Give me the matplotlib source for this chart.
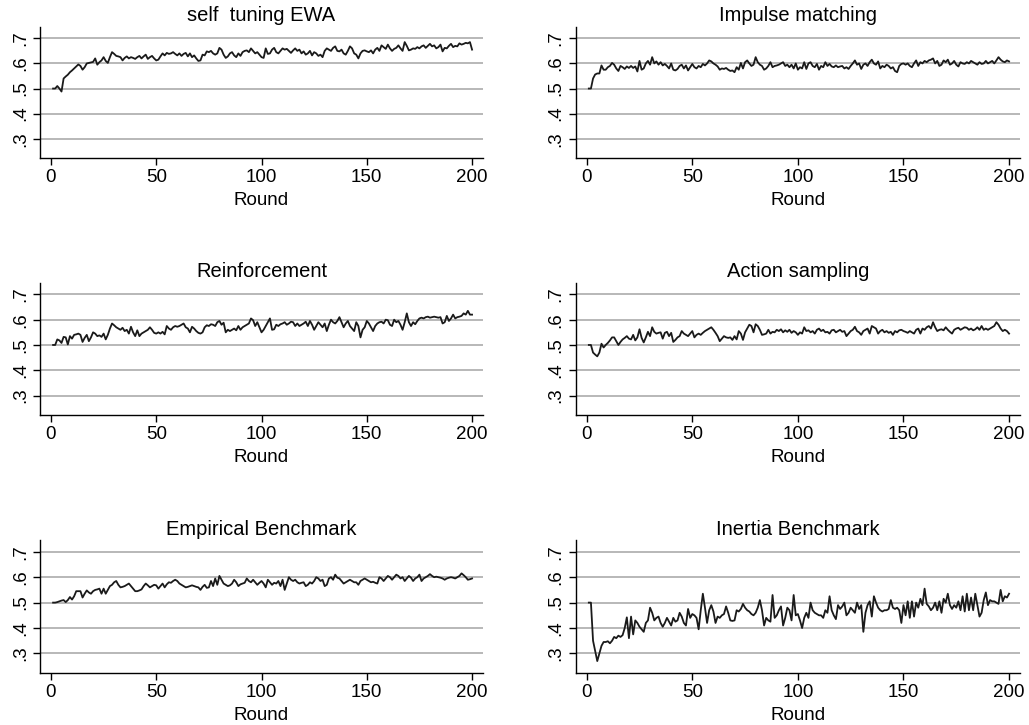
import matplotlib
matplotlib.use('Agg')
import matplotlib.pyplot as plt
import numpy as np

plt.rcParams['font.family'] = ['Liberation Sans', 'DejaVu Sans']

rounds = np.arange(1, 201)

titles = ['self  tuning EWA', 'Impulse matching', 'Reinforcement',
          'Action sampling', 'Empirical Benchmark', 'Inertia Benchmark']

ewa = [.500,.500,.510,.500,.488,.540,.548,.555,.565,.572,
       .580,.588,.596,.590,.575,.585,.600,.602,.604,.606,
       .620,.595,.605,.612,.625,.610,.602,.625,.645,.638,
       .630,.628,.625,.612,.622,.628,.620,.625,.622,.618,
       .625,.630,.620,.628,.635,.618,.625,.630,.620,.612,
       .615,.628,.640,.632,.642,.638,.640,.645,.638,.632,
       .640,.630,.638,.642,.628,.640,.625,.632,.620,.610,
       .612,.635,.632,.648,.645,.650,.640,.635,.640,.662,
       .655,.635,.622,.628,.640,.645,.632,.625,.640,.630,
       .645,.650,.652,.645,.660,.650,.640,.645,.635,.625,
       .622,.660,.638,.640,.655,.662,.645,.640,.650,.660,
       .655,.658,.650,.642,.652,.660,.650,.655,.640,.648,
       .635,.640,.650,.632,.645,.640,.630,.635,.625,.650,
       .660,.655,.650,.662,.668,.650,.648,.655,.640,.635,
       .650,.668,.660,.640,.635,.620,.640,.650,.652,.648,
       .645,.652,.640,.655,.662,.650,.672,.665,.658,.675,
       .660,.650,.658,.662,.672,.660,.650,.685,.670,.652,
       .655,.660,.658,.665,.660,.668,.672,.662,.670,.678,
       .668,.672,.660,.665,.675,.648,.662,.660,.670,.678,
       .665,.670,.668,.680,.675,.678,.682,.680,.685,.655]

impulse = [.500,.500,.540,.556,.560,.560,.592,.575,.575,.585,
           .590,.602,.595,.580,.570,.590,.585,.578,.588,.582,
           .590,.582,.588,.568,.610,.575,.580,.600,.610,.595,
           .625,.600,.608,.595,.605,.592,.598,.590,.580,.600,
           .575,.572,.578,.590,.595,.580,.592,.572,.585,.598,
           .585,.580,.590,.585,.598,.592,.600,.612,.608,.600,
           .595,.588,.575,.580,.578,.582,.575,.570,.572,.565,
           .585,.575,.602,.580,.605,.612,.600,.590,.595,.625,
           .605,.595,.590,.575,.580,.590,.605,.585,.590,.592,
           .595,.600,.605,.590,.595,.585,.595,.580,.600,.575,
           .585,.580,.605,.578,.600,.605,.590,.585,.598,.575,
           .590,.585,.605,.590,.598,.588,.585,.592,.585,.588,
           .590,.580,.585,.578,.590,.600,.612,.595,.600,.578,
           .595,.600,.590,.605,.615,.600,.595,.608,.580,.590,
           .585,.595,.590,.580,.585,.570,.565,.590,.598,.600,
           .595,.600,.590,.585,.600,.612,.590,.605,.600,.610,
           .605,.612,.615,.620,.600,.610,.590,.595,.612,.605,
           .615,.595,.600,.610,.595,.588,.605,.600,.598,.605,
           .600,.610,.605,.600,.595,.605,.598,.600,.610,.600,
           .605,.610,.600,.612,.625,.615,.608,.605,.612,.608]

reinforcement = [.500,.500,.522,.518,.508,.532,.530,.502,.535,.525,
                 .540,.542,.545,.540,.512,.528,.540,.515,.530,.550,
                 .545,.535,.538,.532,.545,.522,.540,.565,.585,.578,
                 .570,.565,.560,.568,.555,.560,.545,.572,.550,.535,
                 .558,.535,.545,.550,.555,.560,.570,.560,.548,.545,
                 .550,.545,.552,.542,.575,.565,.560,.570,.575,.572,
                 .575,.580,.585,.570,.565,.550,.572,.565,.555,.548,
                 .545,.550,.570,.578,.575,.582,.580,.575,.590,.595,
                 .580,.588,.550,.560,.555,.560,.565,.558,.575,.560,
                 .570,.575,.580,.585,.605,.598,.575,.590,.570,.550,
                 .560,.575,.590,.605,.560,.562,.580,.575,.582,.585,
                 .590,.580,.585,.592,.590,.575,.585,.575,.580,.585,
                 .592,.575,.595,.580,.560,.575,.590,.580,.570,.585,
                 .555,.580,.600,.590,.585,.595,.610,.590,.570,.585,
                 .595,.575,.565,.555,.590,.575,.530,.560,.570,.595,
                 .585,.570,.555,.575,.585,.590,.592,.585,.600,.598,
                 .580,.575,.600,.590,.595,.580,.560,.590,.625,.590,
                 .575,.590,.582,.595,.605,.608,.605,.610,.612,.608,
                 .610,.612,.610,.608,.610,.585,.590,.615,.595,.605,
                 .620,.605,.610,.612,.615,.625,.620,.635,.620,.620]

action = [.500,.500,.470,.462,.455,.470,.505,.490,.500,.508,
          .518,.530,.530,.515,.500,.512,.522,.528,.535,.525,
          .522,.540,.518,.530,.562,.528,.510,.530,.552,.535,
          .570,.552,.545,.548,.550,.525,.548,.552,.535,.548,
          .512,.520,.530,.535,.555,.545,.540,.535,.545,.555,
          .530,.540,.545,.540,.548,.555,.560,.565,.570,.560,
          .548,.535,.515,.525,.535,.530,.528,.530,.520,.535,
          .522,.555,.545,.520,.550,.565,.580,.575,.550,.582,
          .575,.560,.540,.542,.545,.560,.545,.552,.550,.560,
          .555,.562,.550,.558,.552,.560,.548,.555,.550,.540,
          .550,.545,.570,.555,.558,.550,.555,.545,.560,.565,
          .555,.560,.550,.552,.545,.558,.560,.550,.555,.560,
          .552,.555,.535,.545,.555,.560,.572,.555,.550,.540,
          .555,.560,.565,.545,.575,.570,.565,.545,.555,.560,
          .550,.555,.548,.552,.540,.555,.550,.558,.560,.555,
          .552,.548,.555,.550,.545,.560,.565,.545,.565,.560,
          .570,.575,.565,.590,.570,.555,.560,.562,.558,.570,
          .560,.552,.545,.560,.565,.568,.560,.565,.570,.568,
          .560,.565,.558,.562,.570,.560,.575,.560,.565,.560,
          .565,.570,.575,.590,.580,.565,.555,.560,.555,.545]

empirical = [.500,.500,.502,.505,.508,.510,.502,.510,.522,.512,
             .525,.545,.545,.545,.520,.535,.548,.540,.535,.545,
             .550,.552,.555,.535,.555,.535,.550,.565,.570,.580,
             .585,.570,.560,.562,.565,.570,.575,.565,.555,.545,
             .545,.548,.552,.565,.575,.568,.560,.565,.570,.568,
             .555,.565,.575,.560,.572,.580,.578,.585,.590,.585,
             .575,.570,.565,.560,.562,.565,.568,.565,.562,.560,
             .550,.562,.570,.558,.560,.585,.565,.595,.570,.605,
             .590,.575,.570,.565,.568,.575,.590,.580,.565,.572,
             .575,.578,.595,.585,.580,.590,.580,.570,.578,.585,
             .575,.560,.590,.580,.570,.578,.575,.585,.565,.590,
             .550,.575,.600,.590,.585,.590,.580,.575,.578,.580,
             .565,.570,.580,.575,.585,.600,.595,.585,.590,.565,
             .570,.595,.600,.590,.610,.598,.595,.585,.575,.580,
             .585,.590,.585,.580,.580,.570,.585,.590,.595,.590,
             .585,.580,.582,.578,.575,.600,.595,.585,.595,.605,
             .600,.590,.600,.610,.605,.595,.600,.585,.595,.605,
             .598,.585,.595,.600,.610,.585,.595,.600,.605,.612,
             .605,.600,.602,.600,.598,.595,.590,.595,.598,.600,
             .598,.595,.600,.605,.615,.608,.600,.590,.592,.595]

inertia = [.500,.500,.350,.310,.270,.300,.330,.345,.345,.348,
           .340,.350,.365,.360,.370,.365,.372,.400,.442,.360,
           .445,.375,.430,.420,.405,.395,.385,.420,.430,.480,
           .460,.430,.440,.445,.420,.405,.420,.440,.425,.410,
           .440,.425,.430,.460,.445,.420,.410,.475,.440,.455,
           .450,.440,.395,.470,.535,.480,.420,.470,.490,.465,
           .420,.445,.440,.450,.455,.485,.460,.430,.428,.430,
           .470,.465,.475,.495,.480,.470,.465,.455,.450,.460,
           .480,.510,.470,.410,.440,.430,.425,.530,.440,.450,
           .470,.485,.410,.440,.480,.470,.430,.530,.450,.455,
           .430,.400,.440,.460,.440,.500,.470,.460,.455,.450,
           .450,.440,.470,.460,.525,.470,.450,.435,.490,.475,
           .485,.500,.450,.460,.480,.470,.460,.500,.475,.490,
           .385,.460,.490,.505,.445,.525,.500,.480,.470,.465,
           .470,.470,.475,.510,.480,.475,.480,.470,.420,.490,
           .450,.505,.440,.505,.445,.500,.480,.515,.490,.555,
           .495,.485,.470,.480,.500,.470,.505,.460,.515,.500,
           .535,.490,.475,.490,.480,.505,.470,.525,.465,.535,
           .470,.520,.470,.535,.490,.445,.460,.510,.540,.490,
           .510,.505,.505,.500,.495,.550,.505,.525,.520,.535]

series = [ewa, impulse, reinforcement, action, empirical, inertia]
yticks = [0.3, 0.4, 0.5, 0.6, 0.7]
ytick_labels = ['.3', '.4', '.5', '.6', '.7']
xticks = [0, 50, 100, 150, 200]

fig = plt.figure(figsize=(10.29, 7.25), dpi=100)

lefts = [0.0389, 0.5595]
widths = [0.4305, 0.4318]
bottoms = [0.782, 0.4276, 0.0717]
heights = [0.1807, 0.182, 0.183]

for i in range(6):
    row = i // 2
    col = i % 2
    ax = fig.add_axes([lefts[col], bottoms[row], widths[col], heights[row]])
    for yv in yticks:
        ax.axhline(yv, color='#b8b8b8', lw=1.4, zorder=1)
    ax.plot(rounds, series[i], color='#1a1a1a', lw=1.3, zorder=3)
    ax.set_xlim(-5.2, 205.2)
    ax.set_ylim(0.223, 0.745)
    ax.set_yticks(yticks)
    ax.set_yticklabels(ytick_labels, rotation=90, va='center')
    ax.set_xticks(xticks)
    ax.spines['top'].set_visible(False)
    ax.spines['right'].set_visible(False)
    ax.spines['left'].set_linewidth(1.0)
    ax.spines['bottom'].set_linewidth(1.0)
    ax.tick_params(direction='out', length=5, width=1.0, labelsize=13.5, pad=3)
    ax.set_xlabel('Round', fontsize=13.5, labelpad=4)
    ax.set_title(titles[i], fontsize=14.5, pad=4)

plt.savefig('out.png', dpi=100)
